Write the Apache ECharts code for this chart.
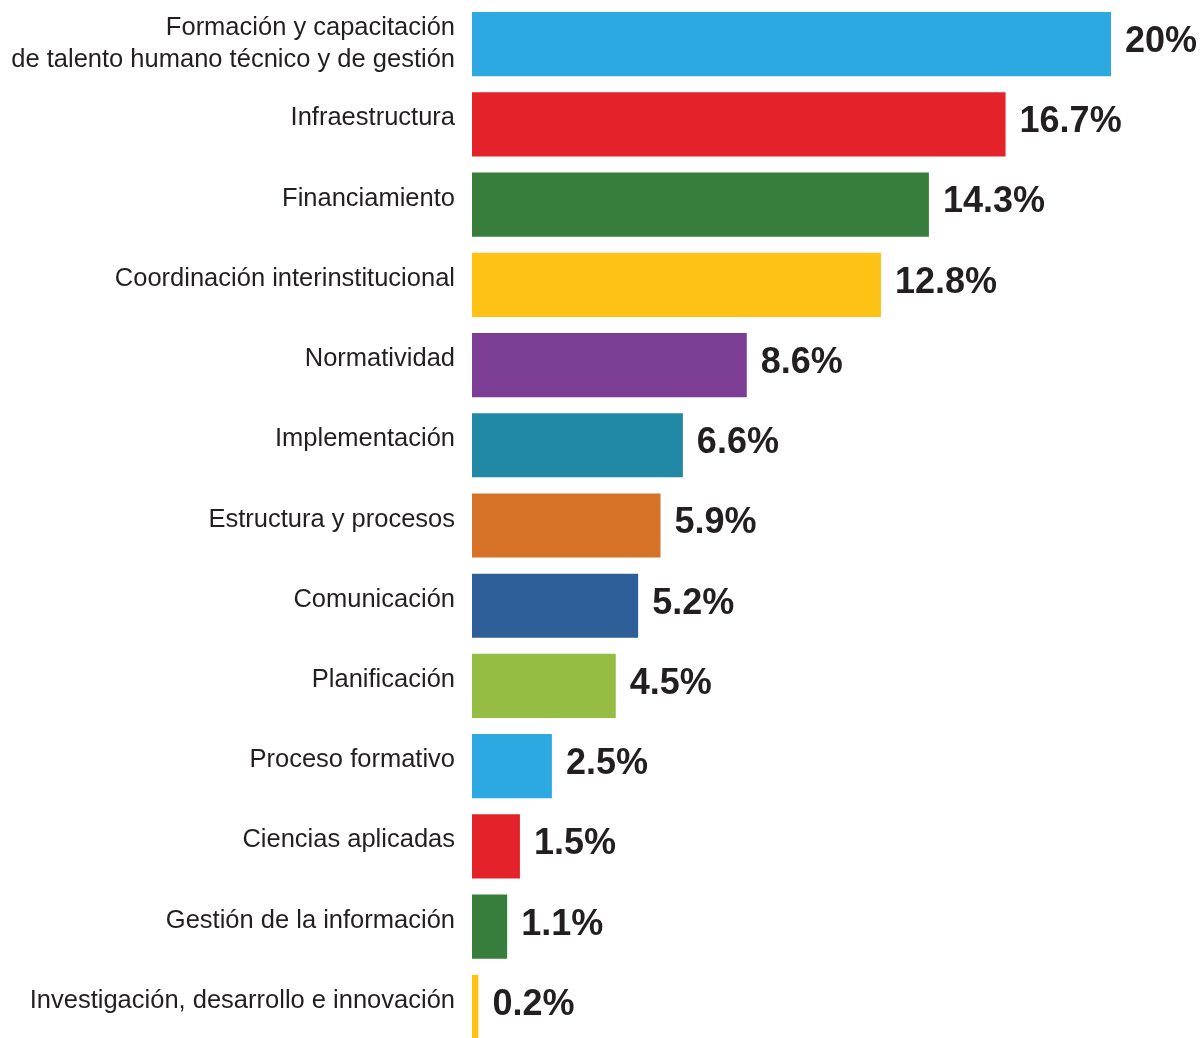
<!DOCTYPE html>
<html>
<head>
<meta charset="utf-8">
<script src="https://cdn.jsdelivr.net/npm/echarts@6/dist/echarts.min.js"></script>
<style>html,body{margin:0;padding:0;background:#fff;overflow:hidden;}#c{width:1200px;height:1060px;}</style>
</head>
<body>
<div id="c"></div>
<script>
const categories = [
  "Formación y capacitación\nde talento humano técnico y de gestión",
  "Infraestructura",
  "Financiamiento",
  "Coordinación interinstitucional",
  "Normatividad",
  "Implementación",
  "Estructura y procesos",
  "Comunicación",
  "Planificación",
  "Proceso formativo",
  "Ciencias aplicadas",
  "Gestión de la información",
  "Investigación, desarrollo e innovación"
];
const values = [20, 16.7, 14.3, 12.8, 8.6, 6.6, 5.9, 5.2, 4.5, 2.5, 1.5, 1.1, 0.2];
const valueLabels = ["20%", "16.7%", "14.3%", "12.8%", "8.6%", "6.6%", "5.9%", "5.2%", "4.5%", "2.5%", "1.5%", "1.1%", "0.2%"];
const colors = ["#2DA9E1", "#E4222A", "#377D3B", "#FEC214", "#7C3E94", "#2189A6", "#D67228", "#2E5F99", "#95BD43", "#2DA9E1", "#E4222A", "#377D3B", "#FEC214"];

const FONT = "'Liberation Sans', Arial, Helvetica, sans-serif";
const chart = echarts.init(document.getElementById('c'), null, {renderer: 'canvas'});
chart.setOption({
  animation: false,
  backgroundColor: '#ffffff',
  grid: {left: 472, top: 4, width: 639, height: 1043, containLabel: false},
  xAxis: {
    type: 'value', min: 0, max: 20,
    show: false
  },
  yAxis: {
    type: 'category', data: categories, inverse: true,
    axisLine: {show: false}, axisTick: {show: false}, splitLine: {show: false},
    axisLabel: {
      margin: 17, color: '#231F20', fontFamily: FONT,
      fontSize: 25.5, align: 'right',
      formatter: (v, i) => i === 0 ? '{m|' + v.split('\n').join('}\n{m|') + '}' : '{s|' + v + '}',
      rich: {
        s: {fontFamily: FONT, fontSize: 25.5, color: '#231F20', padding: [0, 0, 12, 0]},
        m: {fontFamily: FONT, fontSize: 25.5, color: '#231F20', lineHeight: 32}
      }
    }
  },
  series: [{
    type: 'bar',
    data: values.map((v, i) => ({value: v, itemStyle: {color: colors[i]}})),
    barCategoryGap: '20%',
    label: {
      show: true, position: 'right', distance: 14, offset: [0, -2],
      formatter: p => valueLabels[p.dataIndex],
      color: '#231F20', fontWeight: 'bold', fontSize: 36,
      fontFamily: FONT
    }
  }]
});
</script>
</body>
</html>
